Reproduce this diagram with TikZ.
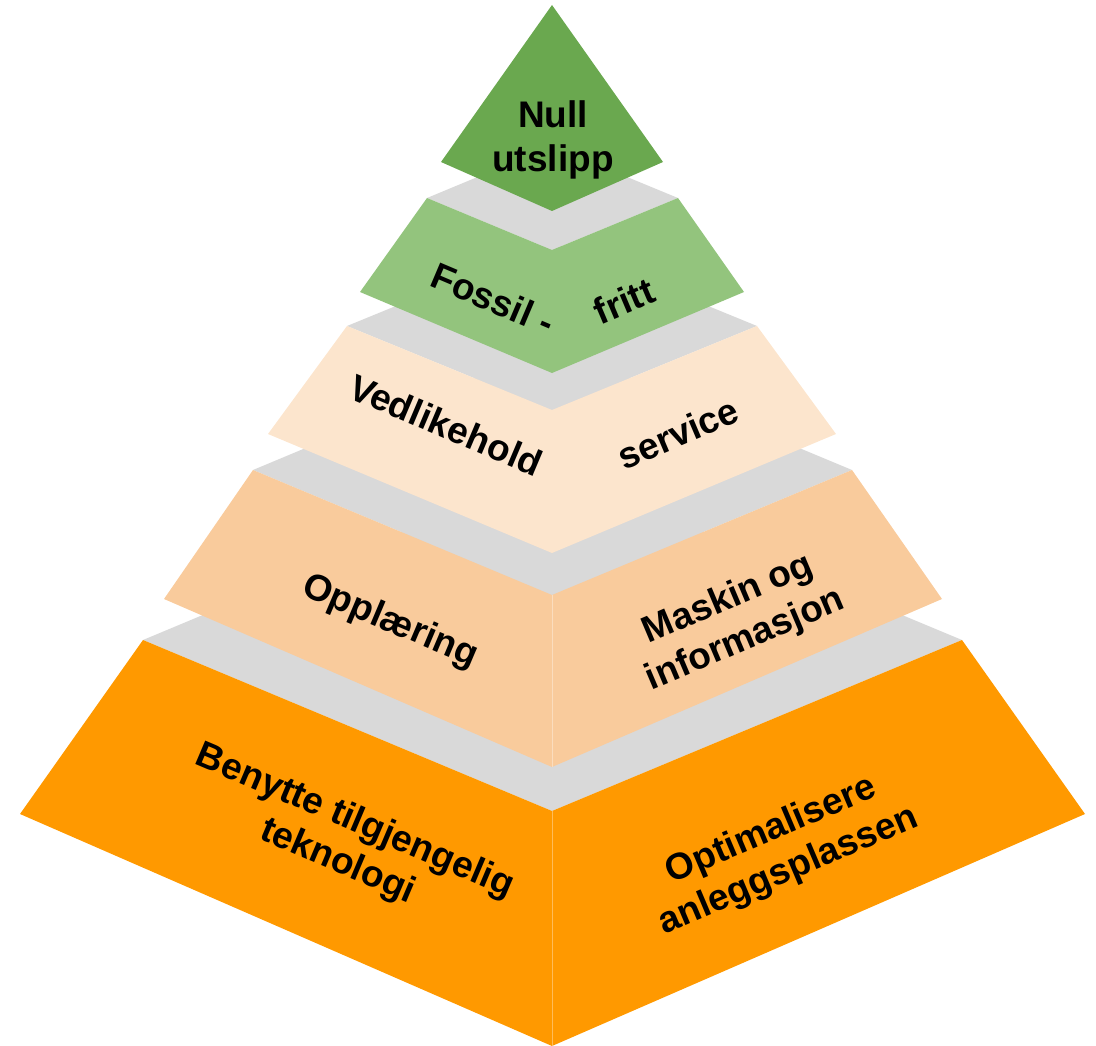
\documentclass[tikz,border=0pt]{standalone}
\usepackage{fontspec}
\setmainfont{Liberation Sans}
\usepackage{tikz}
\definecolor{tipgreen}{HTML}{6AA84F}
\definecolor{lightgreen}{HTML}{93C47D}
\definecolor{cream}{HTML}{FCE5CD}
\definecolor{peach}{HTML}{F9CB9C}
\definecolor{baseorange}{HTML}{FF9900}
\definecolor{topgray}{HTML}{D9D9D9}
\tikzset{
	tiertext/.style = {align=center, inner sep=0pt, text centered,
		font=\fontsize{37}{44}\selectfont\bfseries, text=black},
	topface/.style = {fill=topgray},% grey top of a tier
	seam/.style = {draw=white, draw opacity=0.35, line width=0.7pt}% line between the two faces
}

\begin{document}
\begin{tikzpicture}[x=1pt, y=-1pt]
	\useasboundingbox (0,0) rectangle (1096,1046);
	% tier 5, orange base
	\coordinate (t5l1) at (143,640); \coordinate (t5b1) at (552,811);
	\coordinate (t5r1) at (962,640); \coordinate (t5t) at (552,469);
	\coordinate (t5l2) at (20,814); \coordinate (t5b2) at (552,1046);
	\coordinate (t5r2) at (1085,814);
	\fill[topface] (t5l1) -- (t5t) -- (t5r1) -- (t5b1) -- cycle;
	\fill[baseorange] (t5l1) -- (t5b1) -- (t5r1) -- (t5r2) -- (t5b2) -- (t5l2) -- cycle;
	\draw[seam] (t5b1) -- (t5b2);
	% tier 4, peach
	\coordinate (t4l1) at (253,470); \coordinate (t4b1) at (552,595);
	\coordinate (t4r1) at (852,470); \coordinate (t4t) at (552,345);
	\coordinate (t4l2) at (164,599); \coordinate (t4b2) at (552,767);
	\coordinate (t4r2) at (942,599);
	\fill[topface] (t4l1) -- (t4t) -- (t4r1) -- (t4b1) -- cycle;
	\fill[peach] (t4l1) -- (t4b1) -- (t4r1) -- (t4r2) -- (t4b2) -- (t4l2) -- cycle;
	\draw[seam] (t4b1) -- (t4b2);
	% tier 3, cream
	\coordinate (t3l1) at (347,326); \coordinate (t3b1) at (552,410);
	\coordinate (t3r1) at (757,326); \coordinate (t3t) at (552,242);
	\coordinate (t3l2) at (268,434); \coordinate (t3b2) at (552,553);
	\coordinate (t3r2) at (836,434);
	\fill[topface] (t3l1) -- (t3t) -- (t3r1) -- (t3b1) -- cycle;
	\fill[cream] (t3l1) -- (t3b1) -- (t3r1) -- (t3r2) -- (t3b2) -- (t3l2) -- cycle;
	% tier 2, light green
	\coordinate (t2l1) at (427,198); \coordinate (t2b1) at (552,250);
	\coordinate (t2r1) at (678,198); \coordinate (t2t) at (552,146);
	\coordinate (t2l2) at (360,292); \coordinate (t2b2) at (552,373);
	\coordinate (t2r2) at (744,292);
	\fill[topface] (t2l1) -- (t2t) -- (t2r1) -- (t2b1) -- cycle;
	\fill[lightgreen] (t2l1) -- (t2b1) -- (t2r1) -- (t2r2) -- (t2b2) -- (t2l2) -- cycle;
	% tier 1, the tip
	\coordinate (t1top) at (552,5); \coordinate (t1l) at (441,162);
	\coordinate (t1b) at (552,211); \coordinate (t1r) at (663,162);
	\fill[tipgreen] (t1top) -- (t1r) -- (t1b) -- (t1l) -- cycle;

	% labels
	\node[tiertext] (tip) at (553,140) {Null\\utslipp};
	\node[tiertext, rotate=-23] (fossil) at (493,299) {Fossil -};
	\node[tiertext, rotate=23] (fritt) at (624,301) {fritt};
	\node[tiertext, rotate=-23] (vedlike) at (446,425) {Vedlikehold};
	\node[tiertext, rotate=23] (service) at (678,433) {service};
	\node[tiertext, rotate=-23] (opplaering) at (390,622) {Opplæring};
	\node[tiertext, rotate=23] (maskin) at (737,620) {Maskin og\\informasjon};
	\node[tiertext, rotate=-23] (benytte) at (346,842) {Benytte tilgjengelig\\teknologi};
	\node[tiertext, rotate=23] (optimal) at (780,851) {Optimalisere\\anleggsplassen};
\end{tikzpicture}
\end{document}
